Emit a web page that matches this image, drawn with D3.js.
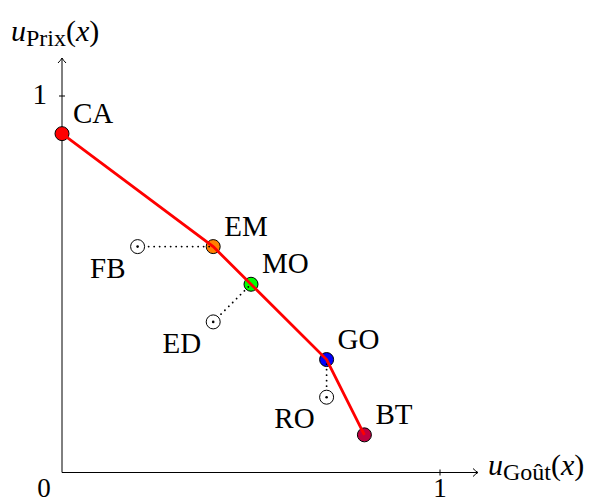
<!DOCTYPE html>
<html>
<head>
<meta charset="utf-8">
<script src="https://cdn.jsdelivr.net/npm/d3@7"></script>
<style>
  body { margin: 0; background: #fff; }
  text { font-family: "Liberation Serif", "DejaVu Serif", serif; }
</style>
</head>
<body>
<div id="chart"></div>
<script>
// frontier points (goût, prix)
var frontNames = ["CA", "EM", "MO", "GO", "BT"];
var frontGout  = [0.0, 0.4, 0.5, 0.7, 0.8];
var frontPrix  = [0.9, 0.6, 0.5, 0.3, 0.1];
var frontColors = ["#ff0000", "#ff8000", "#00ff00", "#0000ff", "#bf0040"];

// dominated points and the frontier point they link to
var domNames  = ["FB", "ED", "RO"];
var domGout   = [0.2, 0.4, 0.7];
var domPrix   = [0.6, 0.4, 0.2];
var domLinkTo = ["EM", "MO", "GO"];

var tickVals = [1];

var W = 598, H = 503;
var FS = 29;
var x = d3.scaleLinear().domain([0, 1]).range([62, 440]);
var y = d3.scaleLinear().domain([0, 1]).range([472.5, 96]);

var svg = d3.select("#chart").append("svg")
    .attr("width", W).attr("height", H);

var defs = svg.append("defs");
defs.append("marker")
    .attr("id", "arr")
    .attr("viewBox", "-6 -5 8 10")
    .attr("markerWidth", 8).attr("markerHeight", 10)
    .attr("markerUnits", "userSpaceOnUse")
    .attr("orient", "auto")
    .append("path")
    .attr("d", "M-5,-4 Q-2,-1 0,0 Q-2,1 -5,4")
    .attr("fill", "none").attr("stroke", "#000").attr("stroke-width", 1);

// axes
svg.append("line")
    .attr("x1", x(0)).attr("y1", y(0)).attr("x2", 478).attr("y2", y(0))
    .attr("stroke", "#000").attr("stroke-width", 1)
    .attr("marker-end", "url(#arr)");
svg.append("line")
    .attr("x1", x(0)).attr("y1", y(0)).attr("x2", x(0)).attr("y2", 58)
    .attr("stroke", "#000").attr("stroke-width", 1)
    .attr("marker-end", "url(#arr)");

// ticks
tickVals.forEach(function(t) {
  svg.append("line")
      .attr("x1", x(t)).attr("x2", x(t)).attr("y1", y(0) - 3).attr("y2", y(0) + 3)
      .attr("stroke", "#000");
  svg.append("text").attr("x", x(t)).attr("y", 497)
      .attr("text-anchor", "middle").attr("font-size", 27).text(t);
  svg.append("line")
      .attr("x1", x(0) - 3).attr("x2", x(0) + 3).attr("y1", y(t)).attr("y2", y(t))
      .attr("stroke", "#000");
  svg.append("text").attr("x", 47).attr("y", y(t) + 8)
      .attr("text-anchor", "end").attr("font-size", FS).text(t);
});
svg.append("text").attr("x", 44).attr("y", 497)
    .attr("text-anchor", "middle").attr("font-size", 27).text("0");

// axis labels
function axisLabel(px, py, sub) {
  var t = svg.append("text").attr("x", px).attr("y", py).attr("font-size", 30);
  t.append("tspan").attr("font-style", "italic").text("u");
  t.append("tspan").attr("font-size", 24).attr("dy", 5).text(sub);
  t.append("tspan").attr("dy", -5).text("(");
  t.append("tspan").attr("font-style", "italic").text("x");
  t.append("tspan").text(")");
}
axisLabel(11, 41, "Prix");
axisLabel(488, 475, "Goût");

var front = frontNames.map(function(n, i) {
  return {name: n, g: frontGout[i], p: frontPrix[i], c: frontColors[i]};
});
var dom = domNames.map(function(n, i) {
  var f = front.find(function(d) { return d.name === domLinkTo[i]; });
  return {name: n, g: domGout[i], p: domPrix[i], to: f};
});

// frontier circles
svg.selectAll(".fp").data(front).enter().append("circle")
    .attr("cx", function(d) { return x(d.g); })
    .attr("cy", function(d) { return y(d.p); })
    .attr("r", 7)
    .attr("fill", function(d) { return d.c; })
    .attr("stroke", "#000").attr("stroke-width", 1);

// dotted links
svg.selectAll(".lk").data(dom).enter().append("line")
    .attr("x1", function(d) { return x(d.g); })
    .attr("y1", function(d) { return y(d.p); })
    .attr("x2", function(d) { return x(d.to.g); })
    .attr("y2", function(d) { return y(d.to.p); })
    .attr("stroke", "#000").attr("stroke-width", 1.8)
    .attr("stroke-linecap", "round")
    .attr("stroke-dasharray", "0.1 5.4");

// dominated points: hollow circle with centre dot
svg.selectAll(".dp").data(dom).enter().append("circle")
    .attr("cx", function(d) { return x(d.g); })
    .attr("cy", function(d) { return y(d.p); })
    .attr("r", 7)
    .attr("fill", "#fff")
    .attr("stroke", "#000").attr("stroke-width", 1);
svg.selectAll(".dc").data(dom).enter().append("circle")
    .attr("cx", function(d) { return x(d.g); })
    .attr("cy", function(d) { return y(d.p); })
    .attr("r", 1.3).attr("fill", "#000");

// frontier line
var line = d3.line()
    .x(function(d) { return x(d.g); })
    .y(function(d) { return y(d.p); });
svg.append("path").datum(front)
    .attr("d", line)
    .attr("fill", "none").attr("stroke", "#ff0000").attr("stroke-width", 2.8);

// labels
svg.selectAll(".fl").data(front).enter().append("text")
    .attr("x", function(d) { return x(d.g) + 11; })
    .attr("y", function(d) { return y(d.p) - 11; })
    .attr("font-size", FS)
    .text(function(d) { return d.name; });
svg.selectAll(".dl").data(dom).enter().append("text")
    .attr("x", function(d) { return x(d.g) - 12; })
    .attr("y", function(d) { return y(d.p) + 31; })
    .attr("text-anchor", "end")
    .attr("font-size", FS)
    .text(function(d) { return d.name; });
</script>
</body>
</html>
